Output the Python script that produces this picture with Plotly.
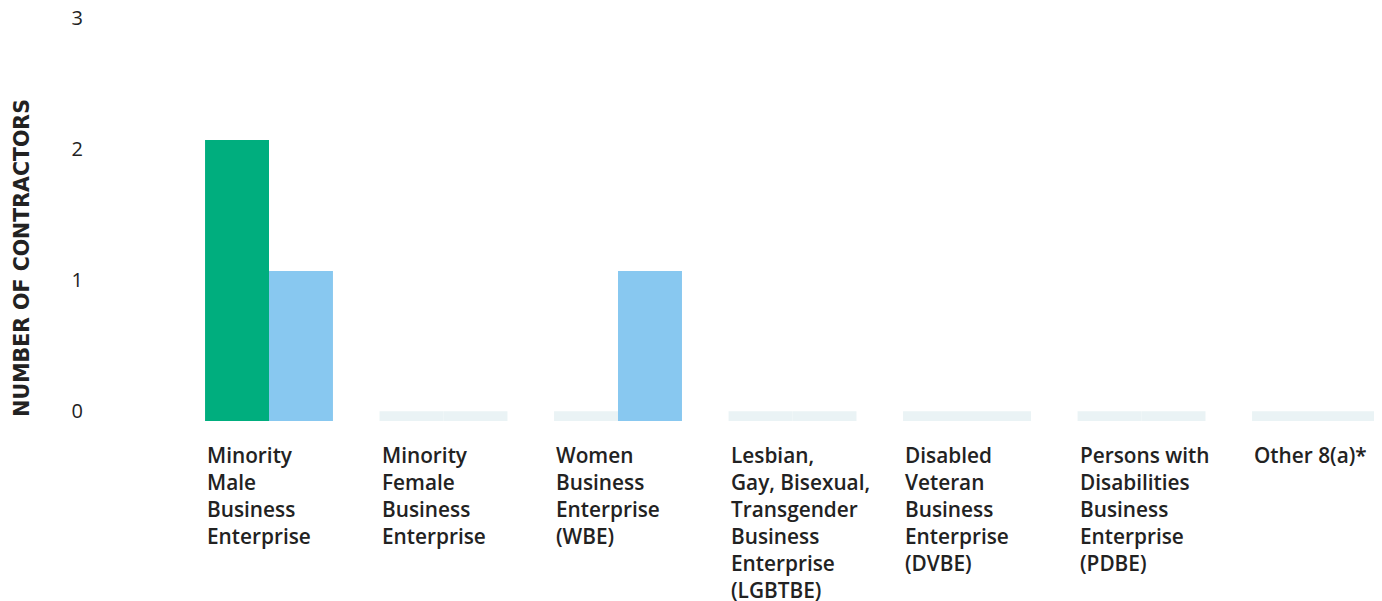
import numpy as np
import plotly.graph_objects as go

# ---- data ----
categories = [
    "Minority Male Business Enterprise",
    "Minority Female Business Enterprise",
    "Women Business Enterprise (WBE)",
    "Lesbian, Gay, Bisexual, Transgender Business Enterprise (LGBTBE)",
    "Disabled Veteran Business Enterprise (DVBE)",
    "Persons with Disabilities Business Enterprise (PDBE)",
    "Other 8(a)*",
]
category_labels = [
    "Minority<br>Male<br>Business<br>Enterprise",
    "Minority<br>Female<br>Business<br>Enterprise",
    "Women<br>Business<br>Enterprise<br>(WBE)",
    "Lesbian,<br>Gay, Bisexual,<br>Transgender<br>Business<br>Enterprise<br>(LGBTBE)",
    "Disabled<br>Veteran<br>Business<br>Enterprise<br>(DVBE)",
    "Persons with<br>Disabilities<br>Business<br>Enterprise<br>(PDBE)",
    "Other 8(a)*",
]
series_a_name = "Prime Contractors"
series_a_values = [2, 0, 0, 0, 0, 0, 0]
series_b_name = "Subcontractors"
series_b_values = [1, 0, 1, 0, 0, 0, 0]
y_tick_values = [0, 1, 2, 3]
y_tick_labels = ["0", "1", "2", "3"]
y_title = "NUMBER OF CONTRACTORS"

# ---- style ----
GREEN = "#00AE7E"
BLUE = "#88C8F0"
PALE = "#EAF3F5"
TEXT = "#222222"
BASE = -0.075     # bars start slightly below the zero line
EXTRA = 0.145     # visual extension of non-zero bars
ZERO_LEN = 0.075  # placeholder height for zero values
FONT = "Open Sans"

W, H = 1374, 593  # page adds 8px body margin
L_MARGIN = 75
PLOT_W = W - L_MARGIN
PLOT_LEFT = 173.75
dom_start = (PLOT_LEFT - L_MARGIN) / PLOT_W
BARGAP = 0.267
group_w = 1 - BARGAP

x_idx = list(range(len(categories)))


def bar_trace(name, values, color):
    v = np.array(values, dtype=float)
    lengths = np.where(v > 0, v + EXTRA, ZERO_LEN)
    colors = [color if val > 0 else PALE for val in v]
    return go.Bar(
        name=name,
        x=x_idx,
        y=lengths,
        base=BASE,
        marker=dict(color=colors, line=dict(width=0)),
        customdata=v,
        hovertext=categories,
        hovertemplate="%{hovertext}: %{customdata}<extra>" + name + "</extra>",
    )


fig = go.Figure()
fig.add_trace(bar_trace(series_a_name, series_a_values, GREEN))
fig.add_trace(bar_trace(series_b_name, series_b_values, BLUE))

fig.update_layout(
    width=W,
    height=H,
    margin=dict(l=L_MARGIN, r=0, t=10, b=180, autoexpand=False),
    paper_bgcolor="white",
    plot_bgcolor="white",
    barmode="group",
    bargap=BARGAP,
    bargroupgap=0,
    showlegend=False,
    font=dict(family=FONT, color=TEXT),
    xaxis=dict(
        domain=[dom_start, 1],
        range=[-0.5, 6.378],
        showticklabels=False,
        showgrid=False,
        zeroline=False,
        showline=False,
        ticks="",
        fixedrange=True,
    ),
    yaxis=dict(
        anchor="free",
        position=0,
        range=[BASE, 3],
        tickvals=y_tick_values,
        ticktext=y_tick_labels,
        tickfont=dict(family=FONT, size=20, color=TEXT),
        ticklabeloverflow="allow",
        showgrid=False,
        zeroline=False,
        showline=False,
        ticks="",
        fixedrange=True,
    ),
)

annotations = []
for i, lab in enumerate(category_labels):
    annotations.append(dict(
        x=i - group_w / 2, xref="x",
        y=-0.044, yref="paper",
        xanchor="left", yanchor="top",
        align="left",
        text=lab,
        showarrow=False,
        font=dict(family=FONT, size=20.8, color=TEXT, weight=600),
    ))
annotations.append(dict(
    x=-0.0472, xref="paper",
    y=0.4045, yref="paper",
    xanchor="center", yanchor="middle",
    text=y_title,
    textangle=-90,
    showarrow=False,
    font=dict(family="DejaVu Sans", size=20.5, color=TEXT, weight=700),
))
fig.update_layout(annotations=annotations)

fig.write_html("out.html")
